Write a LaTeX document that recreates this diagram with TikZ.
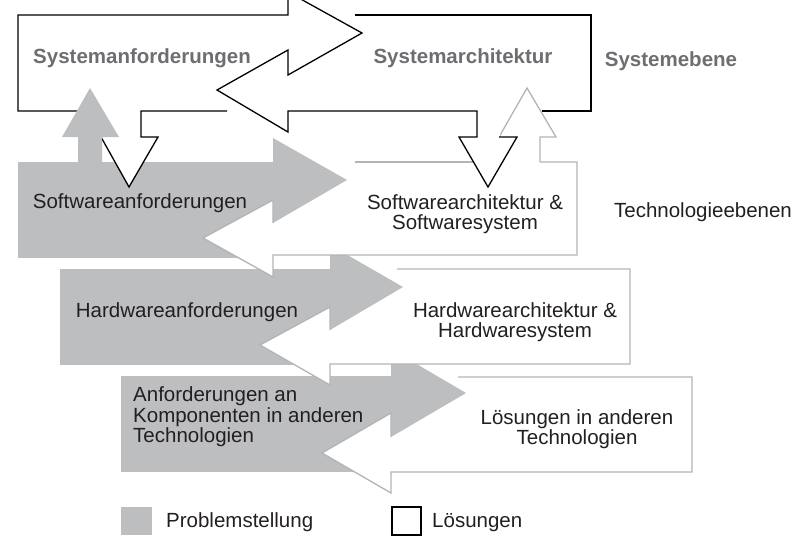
\documentclass[tikz,border=0pt]{standalone}
\usepackage{fontspec}
\setmainfont{Liberation Sans}
\usepackage{tikz}
\definecolor{problemgrey}{HTML}{BCBEC0}
\definecolor{outlinegrey}{HTML}{B2B4B6}
\definecolor{titlegrey}{HTML}{6D6E71}
\definecolor{textblack}{HTML}{231F20}

\begin{document}
\begin{tikzpicture}[x=1pt, y=-1pt, line join=miter,
  problem/.style={fill=problemgrey},
  loesung/.style={fill=white},
  blackline/.style={draw=black, line width=1.3pt},
  greyline/.style={draw=outlinegrey, line width=1.3pt},
  systemlabel/.style={font=\fontsize{20.5}{21}\selectfont\bfseries, text=titlegrey, inner sep=0pt},
  techlabel/.style={font=\fontsize{20.5}{20.5}\selectfont, text=textblack, inner sep=0pt, align=center}]
\useasboundingbox (0,0) rectangle (810,549);
% Problemstellung boxes
\fill[problem] (18,162) rectangle (273,258);
\fill[problem] (60,269) rectangle (330,365);
\fill[problem] (121,376) rectangle (391,472);
% Loesungen boxes and forward heads, bottom up
\fill[loesung] (391,377) rectangle (692,472);
\fill[problem] (391,349) -- (466,393) -- (391,437) -- cycle;
\fill[loesung] (330,269) rectangle (630,364);
\fill[problem] (330,245) -- (403,287) -- (330,330) -- cycle;
\fill[loesung] (273,162) rectangle (577,255);
\fill[problem] (273,138) -- (347,180) -- (273,223) -- cycle;
% heads pointing back
\fill[loesung] (273,200) -- (203,238) -- (273,277) -- cycle;
\fill[loesung] (330,307) -- (260,345) -- (330,385) -- cycle;
\fill[loesung] (391,413) -- (322,453) -- (391,493) -- cycle;
% outlines of the Loesungen
\draw[greyline] (355,162) -- (480,162);
\draw[greyline] (540,162) -- (577,162) -- (577,255) -- (273,255) -- (273,277) -- (203,238) -- (273,200) -- (273,223);
\draw[greyline] (397,269) -- (630,269) -- (630,364) -- (330,364) -- (330,385) -- (260,345) -- (330,307) -- (330,330);
\draw[greyline] (458,377) -- (692,377) -- (692,472) -- (391,472) -- (391,493) -- (322,453) -- (391,413) -- (391,437);
% up arrow Softwarearchitektur -> Systemarchitektur
\fill[loesung] (514,163) -- (514,137) -- (499,137) -- (527,88) -- (556,137) -- (540,137) -- (540,163) -- cycle;
\draw[greyline] (540,162) -- (540,137) -- (556,137) -- (527,88) -- (499,137);
% down arrows from the Systemebene
\fill[loesung] (477,111) -- (477,137) -- (459,137) -- (488,187) -- (517,137) -- (500,137) -- (500,111) -- cycle;
\fill[loesung] (117,111) -- (117,137) -- (101,137) -- (129,187) -- (158,137) -- (141,137) -- (141,111) -- cycle;
% Systemebene
\draw[blackline] (90,111) -- (18,111) -- (18,15) -- (288,15) -- (288,-8) -- (362,33) -- (288,75) -- (288,50)
  -- (217,90) -- (288,132) -- (288,111) -- (477,111) -- (477,137) -- (459,137) -- (488,187) -- (517,137) -- (499,137);
\draw[blackline] (542,111) -- (591,111) -- (591,15) -- (355,15);
\draw[blackline] (227,111) -- (141,111) -- (141,137) -- (158,137) -- (129,187) -- (101,137);
% up arrow Softwareanforderungen -> Systemanforderungen
\fill[problem] (78,163) -- (78,137) -- (62,137) -- (90,88) -- (119,137) -- (102,137) -- (102,163) -- cycle;
% labels
\node[systemlabel, anchor=base] (sysanf) at (142,63) {Systemanforderungen};
\node[systemlabel, anchor=base] (sysarch) at (463,63) {Systemarchitektur};
\node[systemlabel, anchor=base] (sysebene) at (671,66) {Systemebene};
\node[techlabel, anchor=base] (swanf) at (140,208) {Softwareanforderungen};
\node[techlabel] (swarch) at (465,214) {Softwarearchitektur \&\\Softwaresystem};
\node[techlabel, anchor=base] (techebene) at (703,217) {Technologieebenen};
\node[techlabel, anchor=base] (hwanf) at (187,317) {Hardwareanforderungen};
\node[techlabel] (hwarch) at (515,322) {Hardwarearchitektur \&\\Hardwaresystem};
\node[techlabel, align=left, anchor=west] (kompanf) at (133,417) {Anforderungen an\\Komponenten in anderen\\Technologien};
\node[techlabel] (andere) at (577,429) {Lösungen in anderen\\Technologien};
% legend
\fill[problem] (121,507) rectangle (152,535);
\node[techlabel, anchor=base west] (problemtext) at (166,527) {Problemstellung};
\draw[line width=1.3pt] (392,507) rectangle (421,535);
\node[techlabel, anchor=base west] (loesungtext) at (432,527) {Lösungen};
\end{tikzpicture}
\end{document}
